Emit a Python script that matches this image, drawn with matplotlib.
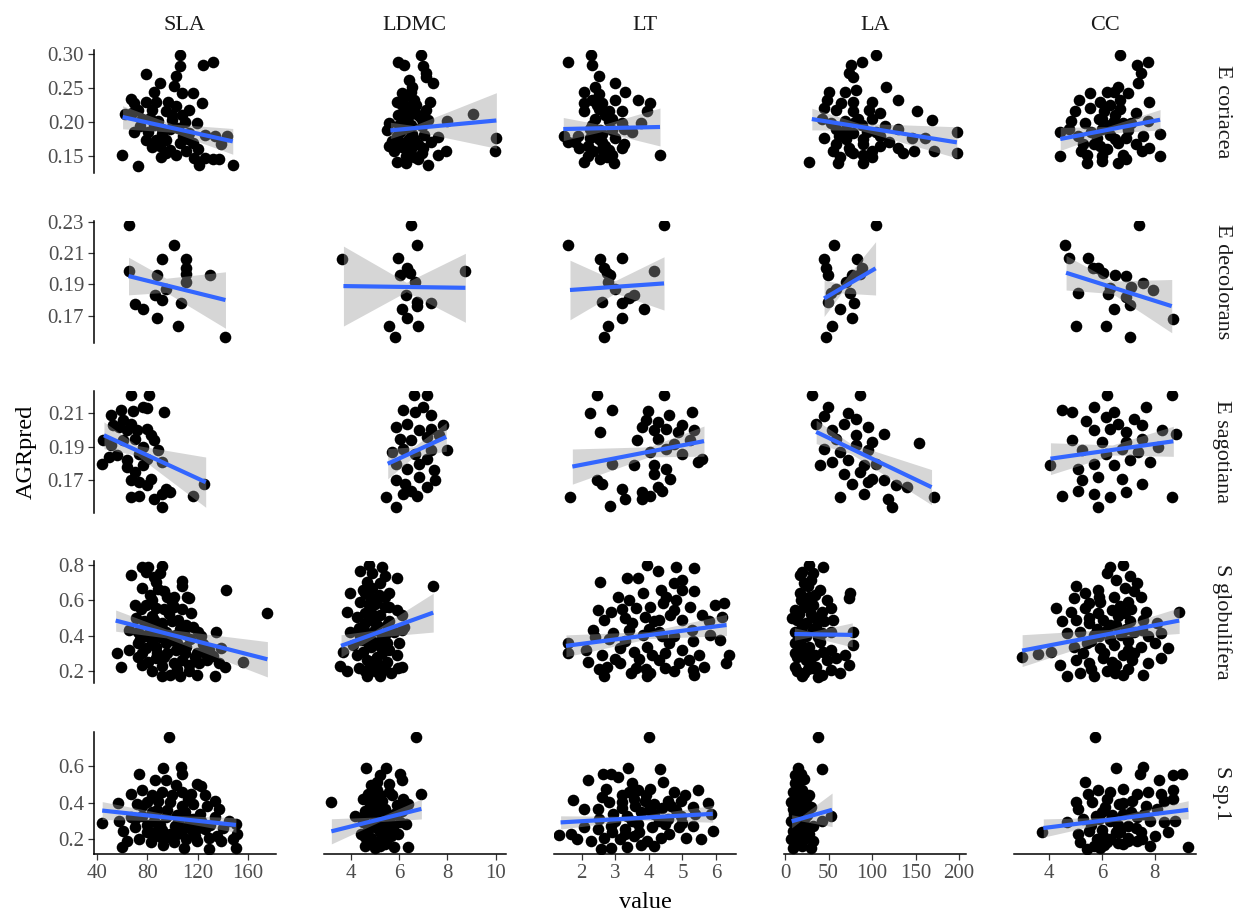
import numpy as np
import matplotlib
matplotlib.use("Agg")
import matplotlib.pyplot as plt

plt.rcParams['font.family'] = ['Liberation Serif', 'DejaVu Serif']

traits = ["SLA", "LDMC", "LT", "LA", "CC"]
species = ["E coriacea", "E decolorans", "E sagotiana", "S globulifera", "S sp.1"]

# ---- points (value, AGRpred) ----
cor_sla = [(105.7,.299),(105.7,.283),(132.3,.289),(123.9,.284),(78.6,.271),(102.6,.268),(90,.257),(101,.253),(85.3,.245),(107.9,.243),(116.7,.243),(66.7,.234),(69.8,.228),(123.5,.228),(79.1,.230),(87,.230),(96.4,.230),(102.6,.223),(113.5,.218),(72.9,.218),(62,.212),(94.8,.216),(107.3,.211),(119.8,.199),(82.3,.206),(88.5,.201),(99.5,.203),(74.5,.194),(69.8,.186),(80.7,.186),(91.6,.189),(104.2,.191),(113.5,.184),(126,.181),(133.8,.179),(143.2,.179),(138.5,.167),(79.1,.174),(87,.174),(94.8,.174),(105.7,.169),(116.7,.169),(98,.159),(110.4,.157),(91,.149),(102.6,.152),(59.8,.152),(117.3,.147),(126,.147),(132.3,.146),(137.3,.146),(121.3,.137),(72.9,.135),(147.9,.137),(84,.218),(98,.190),(90,.165),(108,.180),(84,.163),(120,.160),(95,.155),(110,.200),(100,.211),(85,.196),(112,.175),(92,.182),(76,.205),(68,.214)]
cor_ldmc = [(6.92,.299),(5.95,.289),(6.2,.284),(6.97,.283),(7.1,.272),(7.1,.267),(7.41,.257),(6.55,.252),(6.1,.243),(6.5,.245),(7.28,.230),(6.3,.223),(6.7,.225),(7.1,.218),(5.97,.211),(6.38,.208),(6.8,.211),(7.2,.203),(5.6,.198),(6.0,.196),(6.5,.196),(6.95,.194),(7.98,.201),(9.05,.212),(5.5,.188),(6.05,.185),(6.55,.183),(7.05,.181),(7.6,.178),(10.0,.177),(9.98,.158),(5.7,.172),(6.3,.170),(6.8,.168),(7.3,.170),(5.8,.157),(6.45,.155),(6.95,.155),(7.6,.152),(7.95,.157),(5.9,.141),(6.3,.139),(6.8,.146),(7.2,.137),(6.6,.232),(6.2,.215),(6.9,.206),(6.4,.190),(5.9,.180),(6.6,.175),(7.0,.162),(6.1,.163),(6.6,.148),(5.6,.165),(6.2,.200),(6.4,.175),(6.0,.170),(6.5,.160),(6.3,.150),(6.1,.225),(6.6,.215),(6.3,.238),(6.4,.262),(5.9,.230)]
cor_lt = [(2.27,.299),(1.59,.289),(2.3,.284),(2.5,.268),(3.0,.258),(2.4,.252),(2.07,.244),(2.5,.241),(3.3,.245),(3.0,.233),(3.68,.233),(2.07,.228),(2.6,.228),(4.02,.228),(2.07,.217),(2.5,.219),(2.8,.217),(3.2,.217),(3.95,.216),(1.47,.180),(1.9,.179),(2.4,.204),(2.8,.201),(3.2,.199),(3.75,.199),(2.25,.190),(2.55,.188),(2.9,.188),(3.25,.190),(1.8,.171),(2.25,.176),(2.6,.171),(3.0,.176),(3.25,.167),(4.33,.152),(1.93,.162),(2.35,.157),(2.8,.159),(2.9,.152),(2.07,.141),(2.55,.145),(2.95,.139),(3.2,.162),(1.6,.171),(2.7,.210),(2.3,.196),(2.6,.182),(2.2,.165),(2.7,.165),(3.5,.185),(2.45,.225),(2.75,.148),(2.4,.185),(2.6,.160),(2.2,.150),(2.5,.175),(2.9,.205),(2.3,.232)]
cor_la = [(104,.299),(88.5,.289),(75.5,.284),(73.6,.272),(78.7,.267),(116,.252),(50.5,.245),(68.9,.244),(81.8,.248),(130.4,.233),(47.9,.233),(78.7,.230),(99.4,.230),(152.1,.216),(169.1,.203),(45.3,.221),(58.2,.218),(78.7,.216),(96.8,.218),(109.7,.213),(42.7,.204),(53,.199),(68.9,.201),(84.2,.204),(99.4,.204),(115,.194),(130.4,.189),(58.2,.189),(78.7,.184),(94.2,.186),(109.7,.179),(146,.177),(161.4,.176),(197.5,.186),(197.5,.154),(45.3,.176),(58.2,.167),(73.6,.162),(89.2,.167),(109.7,.164),(130.4,.162),(148.6,.157),(171.7,.157),(27.9,.141),(63.5,.149),(78.7,.154),(89.2,.152),(99.4,.149),(135.6,.154),(61,.139),(89.2,.139),(64,.228),(88,.195),(70,.175),(120,.170),(100,.158),(55,.158),(70,.190),(80,.200),(62,.180),(90,.175),(75,.158),(105,.185)]
cor_cc = [(6.68,.299),(7.31,.284),(7.74,.289),(7.48,.272),(7.35,.257),(6.6,.252),(6.46,.245),(6.97,.243),(5.55,.243),(6.2,.245),(5.15,.233),(5.95,.230),(6.7,.233),(7.8,.230),(5.0,.216),(5.55,.221),(6.1,.216),(6.7,.219),(7.3,.213),(4.85,.201),(5.35,.199),(5.9,.204),(6.46,.201),(7.1,.199),(7.74,.201),(4.43,.186),(4.75,.190),(8.2,.182),(8.2,.150),(5.1,.179),(5.8,.177),(6.3,.181),(6.9,.177),(7.55,.179),(5.3,.167),(5.95,.164),(6.6,.169),(7.3,.167),(7.8,.162),(4.43,.150),(5.45,.152),(6.0,.150),(6.8,.152),(7.5,.157),(5.45,.139),(6.0,.142),(6.6,.139),(6.0,.190),(6.5,.210),(5.6,.185),(7.0,.188),(6.2,.160),(6.9,.145),(5.2,.157),(6.3,.195),(6.0,.205),(6.5,.175),(5.7,.168),(6.8,.198),(6.3,.225)]

dec_sla = [(65.1,.2279),(101.4,.2151),(92.0,.2063),(110.8,.2060),(110.8,.2002),(110.8,.1966),(65.1,.1988),(87.6,.1959),(129.6,.1961),(110.8,.1917),(95.2,.1869),(85.8,.1832),(92.0,.1800),(70.1,.1772),(76.4,.1743),(106.4,.1784),(87.6,.1683),(104.6,.1633),(142.1,.1561)]
dec_ldmc = [(6.51,.2279),(6.74,.2151),(3.63,.2063),(5.95,.2066),(6.34,.2002),(6.45,.1975),(6.02,.1961),(8.74,.1988),(6.65,.1917),(6.3,.1832),(6.74,.1790),(6.74,.1764),(7.33,.1784),(6.1,.1740),(6.34,.1683),(5.6,.1633),(6.78,.1633),(5.85,.1561)]
dec_lt = [(4.45,.2279),(1.6,.2151),(3.19,.2066),(2.55,.2063),(2.65,.2002),(2.75,.1975),(2.85,.1961),(4.14,.1988),(2.79,.1917),(3.0,.1869),(3.55,.1832),(3.4,.1810),(2.6,.1790),(3.19,.1784),(3.85,.1740),(3.19,.1683),(2.79,.1633),(2.65,.1561)]
dec_la = [(104.1,.2279),(56.3,.2151),(44.9,.2063),(82.5,.2063),(88.7,.2002),(86.4,.1966),(47.2,.2002),(49.5,.1959),(76.9,.1961),(70.6,.1917),(58.6,.1869),(52.3,.1843),(74.6,.1843),(79.2,.1779),(49.5,.1790),(63.2,.1740),(76.9,.1683),(54,.1633),(47.2,.1561)]
dec_cc = [(7.41,.2279),(4.6,.2151),(4.75,.2066),(5.48,.2068),(5.86,.2002),(5.65,.2002),(6.05,.1975),(6.5,.1961),(6.9,.1955),(7.55,.1910),(6.31,.1874),(5.1,.1843),(7.1,.1880),(6.25,.1839),(6.9,.1820),(7.95,.1864),(7.05,.1768),(6.45,.1740),(8.7,.1677),(5.02,.1633),(6.17,.1633),(7.05,.1561)]

sag_sla = [(67,.221),(81.2,.221),(58.8,.212),(69,.2115),(76.3,.214),(93.6,.2107),(51.3,.209),(60.7,.206),(67,.204),(79.5,.213),(53,.203),(57.5,.202),(63.8,.200),(71.6,.200),(79.5,.201),(82.6,.197),(45,.194),(51.3,.191),(60.7,.194),(70.1,.195),(76.3,.190),(85.7,.194),(88.9,.188),(43.7,.180),(50,.184),(56.3,.185),(63.8,.182),(73.2,.186),(79.5,.183),(92,.181),(63.8,.178),(70.1,.1749),(76.3,.179),(67,.170),(73.2,.169),(82.6,.171),(79.5,.1675),(95.2,.165),(92,.162),(67,.160),(73.2,.161),(85.7,.159),(98.4,.163),(92,.1539),(116.5,.161),(125.2,.168)]
sag_ldmc = [(6.6,.221),(7.16,.221),(6.18,.212),(6.67,.2107),(7.0,.2137),(7.33,.209),(5.86,.202),(6.34,.204),(6.84,.200),(7.33,.201),(7.82,.203),(6.02,.195),(6.51,.194),(7.16,.196),(7.66,.197),(5.7,.187),(6.18,.189),(6.67,.186),(7.33,.188),(7.98,.188),(7.16,.183),(5.86,.180),(6.34,.177),(6.84,.180),(7.43,.176),(5.86,.170),(6.26,.168),(6.84,.172),(7.16,.166),(7.5,.170),(5.45,.160),(6.18,.162),(6.76,.161),(6.51,.164),(5.86,.1539)]
sag_lt = [(2.45,.221),(4.44,.221),(2.24,.210),(2.9,.212),(3.98,.2115),(5.27,.2107),(3.9,.206),(4.26,.205),(4.6,.209),(4.98,.203),(2.55,.199),(3.78,.202),(4.14,.200),(4.5,.201),(4.86,.199),(5.34,.200),(3.66,.194),(4.26,.195),(4.74,.192),(5.22,.194),(4.02,.187),(4.5,.189),(4.98,.186),(5.57,.183),(5.45,.181),(2.9,.180),(3.55,.179),(4.14,.179),(4.5,.177),(4.62,.171),(4.14,.174),(2.45,.170),(1.65,.160),(2.6,.168),(3.19,.165),(3.78,.163),(4.26,.166),(4.02,.161),(2.85,.155),(3.3,.159),(3.78,.159),(4.38,.164)]
sag_la = [(31.2,.221),(86,.221),(49.5,.2137),(44.9,.2087),(72.3,.210),(81.4,.2067),(35.8,.2037),(54,.200),(67.7,.204),(95,.202),(58.6,.195),(81.4,.197),(99.6,.193),(113.3,.198),(44.9,.189),(63.2,.187),(81.4,.191),(95,.188),(154.3,.1925),(40.3,.179),(54,.181),(72.3,.182),(90.6,.179),(104.2,.180),(67.7,.174),(86,.175),(99.6,.171),(77,.168),(95,.169),(113.3,.170),(127,.167),(63.2,.160),(90.6,.162),(117.9,.159),(140.7,.166),(122.4,.1539),(170.7,.160)]
sag_cc = [(6.2,.221),(8.64,.221),(4.51,.212),(4.87,.2107),(5.71,.2137),(6.46,.2107),(7.66,.2137),(5.41,.2053),(6.16,.208),(6.61,.204),(7.21,.207),(5.71,.200),(6.31,.201),(6.91,.199),(7.51,.203),(8.26,.200),(8.79,.198),(4.87,.194),(6.0,.193),(6.91,.193),(7.51,.195),(5.26,.188),(6.16,.186),(6.76,.189),(7.36,.187),(8.11,.190),(4.06,.179),(5.11,.177),(5.71,.180),(6.46,.179),(7.06,.182),(7.81,.181),(5.26,.170),(5.86,.172),(6.76,.171),(7.51,.168),(4.51,.161),(5.11,.164),(5.71,.162),(6.31,.160),(6.91,.163),(8.64,.160),(5.86,.1539)]

glo_sla = [(76.1,.791),(80.7,.791),(91.7,.794),(90.1,.753),(67.3,.744),(79.1,.758),(85.4,.730),(87,.706),(107.3,.711),(107.9,.683),(113.5,.612),(88.6,.664),(76,.670),(82.2,.632),(93.2,.650),(101,.620),(111.9,.620),(142.4,.660),(70.4,.573),(75,.550),(79.1,.573),(87,.557),(93.2,.550),(101,.564),(107.3,.550),(115.1,.530),(175.4,.530),(71.3,.500),(77.6,.480),(85.4,.490),(91.7,.470),(99.5,.480),(104.2,.490),(110.4,.460),(116.7,.450),(65.1,.432),(72.9,.423),(82.2,.413),(88.6,.432),(94.8,.423),(102.6,.404),(108.8,.413),(122.9,.395),(134.8,.423),(55.7,.300),(58.8,.225),(65.1,.320),(72.9,.357),(79.1,.329),(87,.338),(94.8,.357),(102.6,.320),(110.4,.338),(119.8,.300),(129.2,.320),(138.6,.329),(155.7,.253),(72.9,.281),(80.7,.253),(87,.272),(93.2,.281),(101,.244),(107.3,.262),(113.5,.234),(121.4,.244),(127.6,.262),(137,.244),(141.7,.225),(76,.234),(83.8,.197),(91.7,.169),(97.9,.178),(105.7,.169),(113.5,.197),(119.8,.178),(133.9,.169),(84,.37),(98,.375),(90,.39),(104,.36),(78,.40),(114,.38),(96,.30),(88,.30),(84,.60),(97,.52),(100,.59),(124,.35),(118,.28),(132,.285),(80,.46),(92,.44),(106,.44),(74,.38),(86,.45),(100,.40),(110,.30),(76,.30),(92,.23),(104,.21),(84,.51),(96,.62),(120,.42),(126,.30)]
glo_ldmc = [(4.75,.800),(5.3,.791),(4.4,.763),(4.9,.753),(4.67,.706),(5.4,.735),(5.9,.725),(3.98,.643),(4.5,.659),(4.9,.669),(5.15,.631),(5.57,.640),(7.41,.678),(4.4,.590),(4.75,.573),(5.07,.600),(5.4,.564),(5.9,.545),(3.85,.536),(4.25,.507),(4.58,.526),(4.9,.490),(5.23,.517),(5.57,.480),(6.13,.517),(6.2,.451),(3.98,.423),(4.33,.442),(4.67,.413),(5.0,.432),(5.4,.404),(5.8,.423),(6.13,.432),(3.68,.310),(4.1,.348),(4.42,.376),(4.83,.338),(5.15,.357),(5.57,.320),(6.0,.357),(4.25,.290),(4.67,.262),(5.07,.281),(5.48,.253),(5.9,.290),(6.13,.225),(3.55,.228),(3.85,.197),(4.33,.215),(4.67,.169),(5.0,.197),(5.23,.169),(5.65,.187),(5.97,.215),(4.8,.62),(5.1,.46),(4.6,.47),(5.3,.39),(4.9,.37),(4.5,.31),(5.3,.30),(4.8,.24),(5.2,.23),(5.5,.36),(4.4,.40),(5.6,.56),(4.9,.52),(5.2,.70),(5.0,.58),(4.6,.64),(5.4,.62),(5.0,.43),(4.7,.36),(5.2,.34),(5.0,.26),(4.6,.20),(5.4,.21),(5.5,.46)]
glo_lt = [(3.93,.800),(4.81,.791),(5.35,.782),(4.27,.763),(3.35,.725),(3.68,.725),(2.54,.702),(4.74,.697),(5.0,.716),(3.08,.620),(3.82,.640),(4.36,.659),(5.0,.659),(5.35,.650),(2.47,.545),(2.87,.536),(3.61,.554),(4.02,.564),(4.42,.583),(4.74,.545),(5.21,.564),(5.96,.573),(6.24,.583),(2.67,.490),(3.28,.498),(3.88,.507),(4.16,.480),(4.62,.517),(5.0,.490),(5.57,.517),(5.78,.480),(2.34,.432),(1.6,.357),(1.6,.300),(2.94,.413),(3.41,.432),(3.82,.404),(4.29,.423),(4.74,.395),(5.28,.432),(5.82,.404),(6.17,.507),(2.14,.320),(2.6,.291),(3.14,.329),(3.55,.310),(3.95,.338),(4.49,.300),(5.0,.320),(5.5,.291),(6.11,.376),(6.38,.291),(2.2,.253),(2.74,.225),(3.14,.244),(3.61,.215),(4.02,.187),(4.49,.215),(4.9,.244),(5.3,.206),(5.64,.225),(6.31,.244),(2.67,.169),(3.48,.187),(3.95,.169),(4.76,.197),(5.35,.178),(3.3,.37),(4.0,.44),(4.6,.36),(2.8,.38),(5.3,.37),(3.7,.27),(4.3,.26),(2.4,.39),(4.5,.62),(3.4,.60),(3.5,.47),(4.3,.49),(3.2,.55),(4.8,.60),(3.0,.27),(4.1,.29),(5.2,.26),(3.9,.21),(2.5,.21),(4.4,.40)]
glo_la = [(27.2,.800),(44.1,.791),(16.9,.744),(32.4,.753),(22,.697),(30,.716),(16.9,.643),(27.2,.620),(40.1,.659),(47.9,.600),(75.2,.643),(73.6,.612),(11.8,.545),(22,.564),(32.4,.573),(42.7,.536),(53,.554),(14.3,.490),(24.6,.470),(35,.498),(45.3,.480),(55.6,.490),(11.8,.423),(22,.404),(32.4,.432),(42.7,.413),(53,.423),(77.8,.423),(11.8,.357),(27.2,.338),(40.1,.366),(53,.320),(68.5,.291),(77.8,.348),(14.3,.281),(24.6,.262),(35,.291),(47.9,.262),(58.2,.272),(73.6,.234),(11.8,.225),(22,.187),(32.4,.215),(42.7,.178),(53,.206),(63.3,.187),(19.5,.169),(37.6,.165),(18,.60),(30,.52),(20,.45),(38,.39),(18,.31),(30,.24),(44,.31),(26,.68),(15,.38),(36,.45),(8,.50),(16,.52),(24,.40),(12,.30),(20,.34),(28,.30),(14,.20),(26,.21),(36,.22),(20,.76),(25,.58),(34,.63)]
glo_cc = [(6.29,.791),(6.8,.800),(6.2,.753),(6.55,.716),(7.05,.735),(7.31,.697),(5.02,.678),(5.37,.640),(5.87,.659),(6.88,.669),(7.22,.650),(4.94,.612),(5.53,.583),(5.95,.592),(6.46,.620),(6.97,.592),(7.48,.620),(4.26,.554),(4.85,.536),(5.37,.554),(5.87,.526),(6.38,.545),(6.88,.526),(7.65,.536),(8.92,.536),(4.51,.480),(5.02,.490),(5.53,.470),(6.04,.490),(6.55,.460),(7.05,.480),(7.56,.490),(8.07,.470),(4.68,.413),(5.19,.423),(5.7,.404),(6.2,.432),(6.71,.404),(7.22,.423),(7.73,.395),(8.24,.413),(2.99,.277),(3.58,.295),(4.09,.310),(4.94,.338),(5.45,.357),(5.95,.329),(6.46,.348),(6.97,.320),(7.48,.338),(7.99,.357),(8.5,.329),(4.43,.234),(5.02,.262),(5.53,.244),(6.04,.272),(6.55,.234),(7.14,.262),(7.73,.244),(8.24,.272),(4.68,.169),(5.19,.187),(5.7,.169),(6.2,.197),(6.8,.178),(7.56,.178),(5.6,.37),(6.3,.38),(7.0,.37),(5.3,.30),(6.1,.30),(6.8,.29),(5.8,.44),(6.6,.51),(7.2,.30),(5.9,.62),(6.7,.57),(7.1,.55),(5.5,.50),(6.3,.46),(6.9,.44),(5.9,.40),(7.5,.43),(6.4,.25),(5.6,.21),(6.5,.19),(7.0,.21)]

sp1_sla = [(97.4,.762),(92.2,.588),(106.6,.596),(107.9,.557),(73.4,.557),(86.2,.527),(94.8,.524),(102.6,.498),(119.8,.504),(122.9,.489),(66.7,.449),(76,.467),(83.8,.440),(91.7,.458),(107.3,.458),(115.1,.449),(126,.440),(133.9,.412),(56.7,.398),(71.8,.394),(79.6,.403),(88.9,.412),(98.3,.403),(107.3,.384),(116.7,.394),(127.6,.384),(137,.366),(44.2,.287),(57.4,.302),(66.7,.320),(76,.329),(85.4,.302),(94.8,.320),(104.2,.292),(113.5,.311),(122.9,.302),(133.9,.320),(144.8,.302),(150.4,.283),(60.6,.246),(70.2,.265),(79.6,.237),(88.9,.255),(98.3,.228),(107.3,.246),(116.7,.237),(126,.255),(135.4,.219),(151,.228),(63.8,.191),(73.4,.200),(82.6,.182),(91.7,.209),(101,.182),(110.4,.200),(119.8,.191),(129.2,.209),(138.6,.191),(148,.200),(60,.158),(92.2,.169),(108.8,.154),(129.2,.145),(150.4,.149),(84,.35),(96,.36),(110,.35),(122,.34),(90,.28),(102,.27),(80,.28),(112,.27),(96,.21),(86,.22),(118,.22),(100,.44),(76,.38),(88,.36),(104,.33),(116,.31),(130,.28),(92,.25),(104,.23),(120,.26),(140,.26),(82,.24),(70,.31),(112,.42)]
sp1_ldmc = [(6.71,.762),(4.62,.588),(5.44,.593),(5.23,.550),(6.05,.559),(6.1,.527),(4.83,.498),(5.07,.513),(5.57,.504),(5.0,.458),(3.2,.403),(6.92,.449),(4.5,.421),(4.9,.430),(5.3,.412),(5.7,.440),(6.15,.421),(6.38,.394),(4.17,.329),(4.58,.357),(4.99,.338),(5.40,.366),(5.81,.338),(6.13,.357),(4.5,.292),(4.9,.274),(5.3,.302),(5.73,.265),(6.05,.292),(6.3,.283),(4.42,.228),(4.83,.209),(5.23,.237),(5.65,.219),(5.97,.228),(4.58,.163),(4.99,.154),(5.4,.172),(5.81,.158),(6.38,.158),(4.8,.38),(5.1,.39),(5.5,.33),(5.0,.31),(4.7,.25),(5.1,.26),(5.4,.27),(4.8,.19),(5.2,.19),(5.5,.20),(5.1,.47),(4.6,.33),(5.9,.39),(4.7,.45),(5.3,.22),(5.0,.17),(5.2,.44),(5.6,.46),(4.9,.36),(5.2,.34),(5.6,.30),(5.0,.28),(5.3,.25),(4.6,.21),(5.7,.24),(5.2,.16)]
sp1_lt = [(3.99,.762),(3.39,.590),(4.33,.586),(2.63,.559),(2.87,.559),(2.2,.527),(3.08,.541),(4.42,.513),(2.71,.476),(4.02,.476),(5.46,.471),(3.41,.458),(3.68,.467),(4.76,.458),(5.06,.440),(1.73,.417),(2.07,.366),(2.47,.366),(2.8,.403),(3.21,.403),(3.55,.421),(3.88,.412),(4.15,.394),(4.56,.412),(4.96,.412),(5.77,.398),(5.3,.375),(4.65,.380),(2.94,.338),(3.35,.329),(3.75,.348),(4.15,.338),(4.56,.311),(4.96,.329),(5.37,.338),(5.84,.338),(1.33,.224),(1.67,.228),(2.07,.265),(2.47,.255),(2.87,.274),(3.28,.255),(3.68,.283),(4.09,.265),(4.49,.283),(4.9,.265),(5.3,.274),(5.9,.246),(1.87,.200),(2.27,.191),(2.67,.209),(3.14,.200),(3.55,.219),(3.95,.191),(4.36,.209),(5.1,.209),(5.54,.200),(2.58,.145),(2.87,.154),(3.35,.158),(3.75,.169),(4.15,.163),(3.0,.30),(3.5,.30),(4.3,.30),(3.7,.24),(2.5,.31),(3.2,.37),(4.0,.36),(5.0,.29),(3.2,.44),(3.9,.44),(2.6,.43),(3.6,.38),(4.4,.37),(2.9,.24),(3.3,.23),(4.6,.23),(4.8,.36),(3.5,.51)]
sp1_la = [(37.5,.762),(15.3,.590),(42.6,.586),(11.2,.550),(21.5,.531),(15.3,.495),(9.2,.458),(19.5,.467),(27.2,.440),(6.6,.403),(14.3,.412),(24.6,.421),(9.2,.366),(19.5,.357),(29.8,.375),(42.6,.302),(53,.329),(6.6,.302),(14.3,.283),(22,.311),(32.4,.274),(9.2,.246),(19.5,.255),(27.2,.228),(6.6,.200),(14.3,.182),(24.6,.209),(32.4,.191),(9.2,.154),(19.5,.163),(29.8,.154),(12,.33),(17,.39),(11,.51),(22,.28),(16,.22),(25,.33),(12,.44),(10,.40),(14,.36),(18,.44),(12,.29),(16,.27),(20,.32),(13,.21),(17,.19),(11,.17),(22,.23),(14,.50),(18,.56),(10,.34),(24,.36),(26,.25)]
sp1_cc = [(5.75,.762),(6.55,.590),(7.57,.596),(7.45,.557),(5.36,.513),(8.16,.522),(8.67,.550),(9.01,.557),(5.48,.449),(5.87,.467),(6.29,.458),(6.8,.476),(7.31,.449),(7.74,.458),(8.25,.449),(8.67,.467),(8.33,.412),(8.67,.421),(5.11,.366),(5.62,.403),(6.12,.375),(6.63,.394),(7.14,.412),(7.65,.384),(8.08,.366),(5.02,.403),(3.75,.237),(4.68,.292),(5.28,.311),(5.79,.329),(6.29,.302),(6.8,.338),(7.31,.320),(7.82,.302),(8.33,.292),(8.76,.302),(5.11,.228),(5.53,.246),(6.04,.219),(6.55,.237),(6.97,.209),(7.48,.237),(7.99,.219),(8.5,.237),(5.19,.182),(5.7,.163),(6.21,.182),(6.8,.172),(7.31,.191),(7.82,.163),(9.26,.158),(5.45,.145),(5.95,.154),(6.0,.35),(6.6,.28),(7.0,.27),(5.6,.28),(7.6,.34),(6.3,.20),(7.0,.19),(6.2,.42),(6.8,.40),(5.9,.31),(6.4,.33),(7.1,.35),(6.0,.25),(6.7,.24),(7.3,.26),(5.8,.20),(6.6,.18),(7.5,.20),(6.1,.17)]

# ---- linear fits (per trait: SLA, LDMC, LT, LA, CC) ----
# x at start / narrowest point / end of the band, fitted line at start and end
cor_fit_x = [[60.4, 100, 147.9], [5.64, 6.6, 10.02], [1.45, 2.6, 4.33], [30.8, 85, 197.5], [4.43, 6.2, 8.2]]
cor_fit_y = [[.2074, .1715], [.1877, .2023], [.1897, .1927], [.2044, .170], [.175, .2034]]
cor_fit_lo = [[.190, .185, .1525], [.1757, .1869, .1613], [.1727, .1859, .1647], [.1884, .1882, .147], [.158, .1833, .1884]]
cor_fit_hi = [[.224, .197, .1905], [.1997, .1949, .2433], [.2067, .1959, .2207], [.2204, .1982, .193], [.192, .1933, .2184]]

dec_fit_x = [[65.1, 95, 142.1], [3.7, 6.3, 8.74], [1.65, 3.0, 4.45], [44.9, 65, 104.1], [4.65, 6.4, 8.64]]
dec_fit_y = [[.1953, .180], [.1889, .1878], [.1864, .1906], [.181, .2002], [.1974, .1761]]
dec_fit_lo = [[.1833, .1849, .162], [.1634, .1853, .1658], [.1674, .1844, .1736], [.1695, .1845, .1832], [.1864, .1841, .1591]]
dec_fit_hi = [[.2073, .1939, .198], [.2144, .1913, .2098], [.2054, .1924, .2076], [.1925, .1905, .2172], [.2084, .1921, .1931]]

sag_fit_x = [[45.6, 72, 126.4], [5.53, 6.6, 7.95], [1.72, 4.0, 5.64], [35.8, 75, 168.4], [4.06, 6.4, 8.7]]
sag_fit_y = [[.197, .169], [.180, .196], [.1783, .1935], [.199, .166], [.183, .1934]]
sag_fit_lo = [[.189, .1849, .154], [.171, .1841, .1875], [.1678, .1841, .1845], [.192, .1862, .1555], [.1735, .1852, .1844]]
sag_fit_hi = [[.205, .1909, .184], [.189, .1901, .2045], [.1888, .1901, .2025], [.206, .1922, .1765], [.1925, .1912, .2024]]

glo_fit_x = [[54.9, 95, 175.4], [3.6, 5.0, 7.41], [1.53, 4.0, 6.31], [10.8, 30, 77.3], [2.99, 6.3, 8.92]]
glo_fit_y = [[.485, .266], [.342, .53], [.342, .46], [.409, .404], [.315, .485]]
glo_fit_lo = [[.425, .387, .166], [.279, .391, .42], [.28, .383, .40], [.374, .3926, .336], [.225, .3849, .412]]
glo_fit_hi = [[.545, .437, .366], [.405, .431, .64], [.404, .423, .52], [.444, .4226, .472], [.405, .4349, .558]]

sp1_fit_x = [[44.2, 100, 150.4], [3.2, 5.2, 6.92], [1.37, 3.6, 5.9], [7.6, 18, 54.1], [3.79, 6.4, 9.26]]
sp1_fit_y = [[.357, .278], [.243, .366], [.292, .339], [.298, .361], [.261, .361]]
sp1_fit_lo = [[.308, .3005, .238], [.174, .2961, .311], [.256, .3051, .293], [.262, .3001, .269], [.211, .2967, .311]]
sp1_fit_hi = [[.406, .3305, .318], [.312, .3221, .421], [.328, .3251, .385], [.334, .3241, .453], [.311, .3207, .411]]

x_ticks = [[40, 80, 120, 160], [4, 6, 8, 10], [2, 3, 4, 5, 6], [0, 50, 100, 150, 200], [4, 6, 8]]
y_ticks = [[0.15, 0.20, 0.25, 0.30], [0.17, 0.19, 0.21, 0.23], [0.17, 0.19, 0.21], [0.2, 0.4, 0.6, 0.8], [0.2, 0.4, 0.6]]
y_fmt = ["%.2f", "%.2f", "%.2f", "%.1f", "%.1f"]
x_lims = [(37.3, 182), (2.88, 10.41), (1.165, 6.59), (-1.4, 208), (2.68, 9.56)]
y_lims = [(0.1254, 0.3063), (0.1524, 0.2306), (0.1504, 0.2236), (0.130, 0.824), (0.117, 0.7895)]

points = [[cor_sla, cor_ldmc, cor_lt, cor_la, cor_cc],
          [dec_sla, dec_ldmc, dec_lt, dec_la, dec_cc],
          [sag_sla, sag_ldmc, sag_lt, sag_la, sag_cc],
          [glo_sla, glo_ldmc, glo_lt, glo_la, glo_cc],
          [sp1_sla, sp1_ldmc, sp1_lt, sp1_la, sp1_cc]]
fit_x = [cor_fit_x, dec_fit_x, sag_fit_x, glo_fit_x, sp1_fit_x]
fit_y = [cor_fit_y, dec_fit_y, sag_fit_y, glo_fit_y, sp1_fit_y]
fit_lo = [cor_fit_lo, dec_fit_lo, sag_fit_lo, glo_fit_lo, sp1_fit_lo]
fit_hi = [cor_fit_hi, dec_fit_hi, sag_fit_hi, glo_fit_hi, sp1_fit_hi]

# layout in pixels
W, H = 1243, 917
col_left = [93.5, 323.6, 553.7, 783.8, 1013.9]
row_top = [50, 220.7, 390.7, 560.7, 731.7]
pw, ph = 182.2, 122.6

fig = plt.figure(figsize=(W / 100, H / 100), dpi=100)

for i in range(5):
    for j in range(5):
        ax = fig.add_axes([col_left[j] / W, 1 - (row_top[i] + ph) / H, pw / W, ph / H])
        pts = np.array(points[i][j])
        ax.scatter(pts[:, 0], pts[:, 1], s=70, c="black", linewidths=0, zorder=2)
        fx = fit_x[i][j]
        ax.fill_between(fx, fit_lo[i][j], fit_hi[i][j], color="#999999", alpha=0.4,
                        linewidth=0, zorder=3)
        ax.plot([fx[0], fx[2]], fit_y[i][j], color="#3366FF", lw=3, zorder=4,
                solid_capstyle="butt")
        ax.set_xlim(x_lims[j])
        ax.set_ylim(y_lims[i])
        for s in ax.spines.values():
            s.set_visible(False)
            s.set_linewidth(1.1)
        ax.tick_params(length=4.2, width=0.9, color="#333333", labelcolor="#4D4D4D",
                       labelsize=15, pad=2.5)
        if j == 0:
            ax.spines["left"].set_visible(True)
            ax.set_yticks(y_ticks[i])
            ax.set_yticklabels([y_fmt[i] % v for v in y_ticks[i]])
        else:
            ax.set_yticks([])
        if i == 4:
            ax.spines["bottom"].set_visible(True)
            ax.set_xticks(x_ticks[j])
            ax.set_xticklabels([str(v) for v in x_ticks[j]])
        else:
            ax.set_xticks([])
        ax.patch.set_alpha(0)

# strip labels
for j, t in enumerate(traits):
    fig.text((col_left[j] + pw / 2) / W, 1 - 25 / H, t, ha="center", va="center",
             fontsize=16, color="#1A1A1A")
for i, sp in enumerate(species):
    fig.text(1222 / W, 1 - (row_top[i] + ph / 2) / H, sp, ha="center", va="center",
             rotation=270, fontsize=16, color="#1A1A1A")

fig.text(645 / W, 1 - 902 / H, "value", ha="center", va="center", fontsize=17.5)
fig.text(26 / W, 1 - 452 / H, "AGRpred", ha="center", va="center", rotation=90,
         fontsize=17.5)

fig.savefig("out.png", dpi=100)
